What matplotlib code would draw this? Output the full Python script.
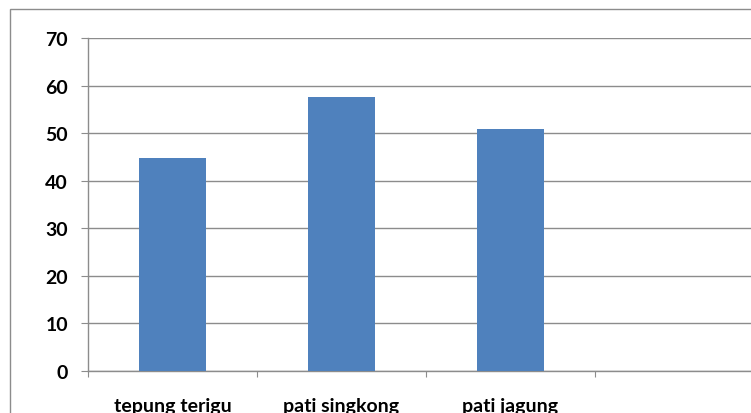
import matplotlib
matplotlib.use('Agg')
import matplotlib.pyplot as plt
from matplotlib.patches import Rectangle

categories = ['tepung terigu', 'pati singkong', 'pati jagung', '']
values = [44.7, 57.7, 50.9, 0]
y_ticks = [0, 10, 20, 30, 40, 50, 60, 70]

plt.rcParams['font.family'] = ['Lato', 'DejaVu Sans']

W, H = 751, 414
fig = plt.figure(figsize=(W / 100, H / 100), dpi=100)
fig.patch.set_facecolor('white')

# chart area frame, runs off the right and bottom edges
fig.add_artist(Rectangle((10 / W, -0.2), 1.5, (H - 10) / H + 0.2,
                         transform=fig.transFigure, fill=False,
                         edgecolor='#8c8c8c', linewidth=1.0))

ax = fig.add_axes([88 / W, 42 / H, 676 / W, 333 / H])
x = list(range(len(categories)))
ax.bar(x[:3], values[:3], width=0.4, color='#4f81bd', zorder=3)

ax.set_xlim(-0.5, len(categories) - 0.5)
ax.set_ylim(0, 70)
ax.set_yticks(y_ticks)
ax.set_yticklabels([str(t) for t in y_ticks], fontsize=14, fontweight='bold')
ax.yaxis.grid(True, color='#8c8c8c', linewidth=1.0, zorder=0)

ax.set_xticks([i + 0.5 for i in range(-1, len(categories))])
ax.set_xticklabels([])
ax.set_xticks(x, minor=True)
ax.set_xticklabels(categories, minor=True, fontsize=14, fontweight='bold')
ax.tick_params(axis='x', which='minor', length=0, pad=18.5)
ax.tick_params(axis='x', which='major', length=4.3, color='#8c8c8c', direction='out')
ax.tick_params(axis='y', length=5, color='#8c8c8c', pad=9.4, labelcolor='black')

for s in ['top', 'right']:
    ax.spines[s].set_visible(False)
for s in ['left', 'bottom']:
    ax.spines[s].set_color('#8c8c8c')
    ax.spines[s].set_linewidth(1.0)

fig.savefig('out.png', dpi=100)
